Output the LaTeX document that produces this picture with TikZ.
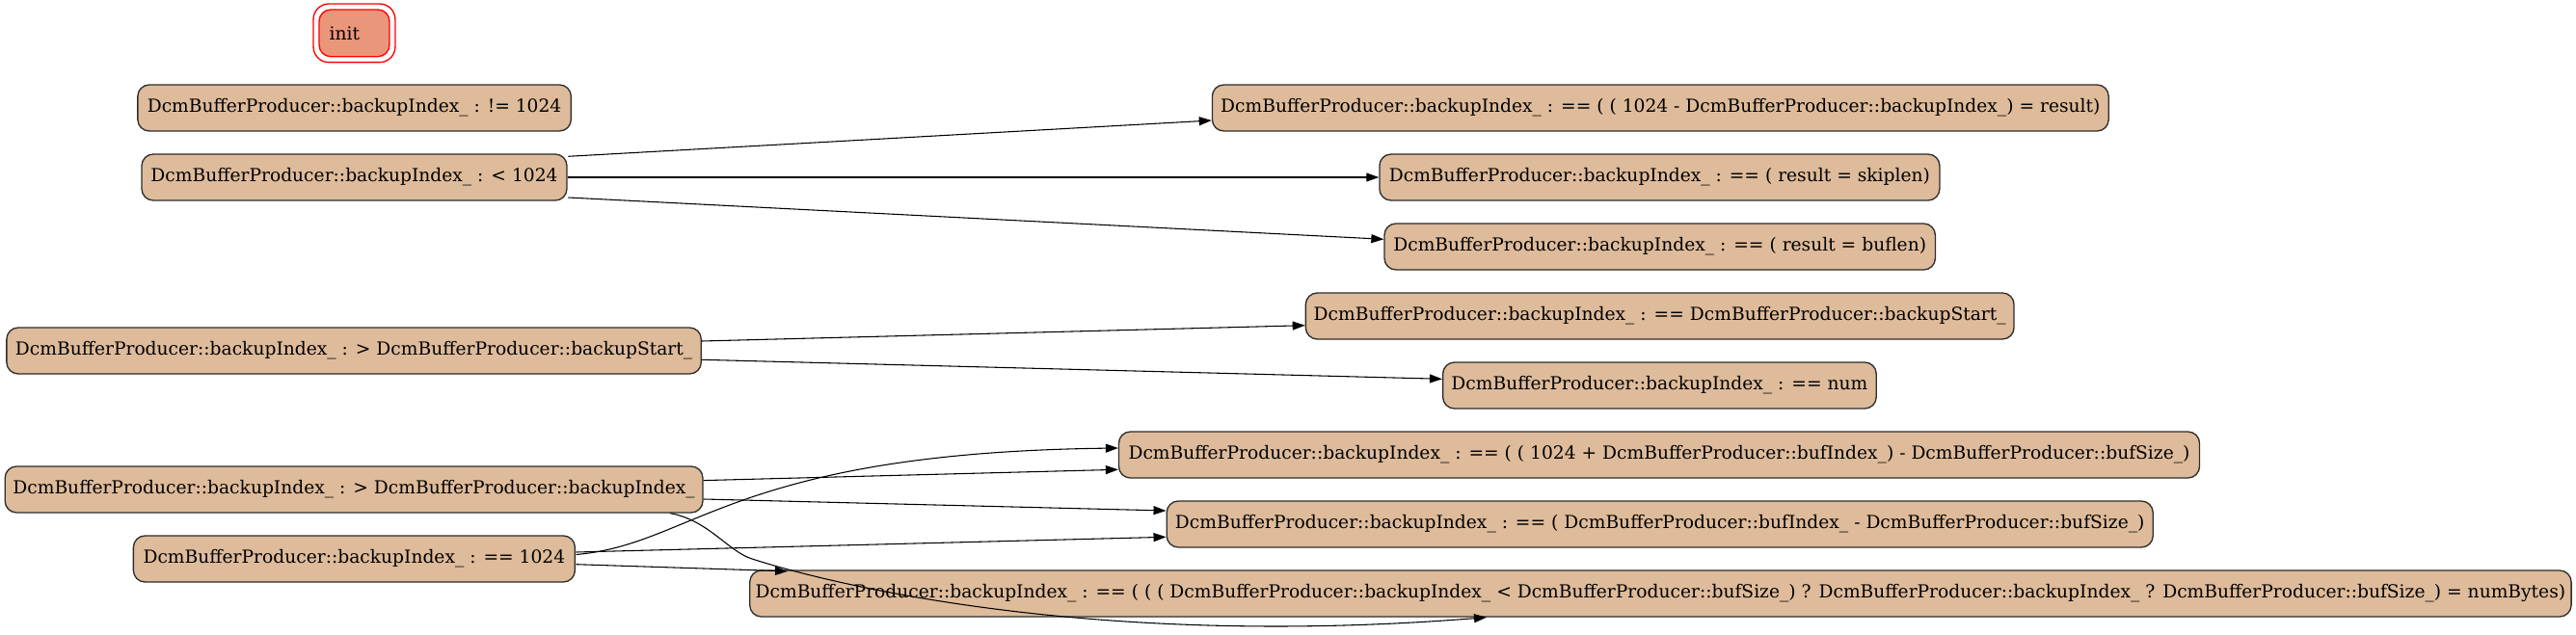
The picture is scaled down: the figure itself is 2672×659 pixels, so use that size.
\documentclass[tikz,border=0pt]{standalone}
\usepackage{fontspec}
\setmainfont{DejaVu Serif}
\usetikzlibrary{arrows.meta,calc}
\definecolor{nodefill}{RGB}{222,187,154}
\definecolor{initfill}{RGB}{234,150,122}
\definecolor{bordergray}{RGB}{45,45,45}
\begin{document}
\begin{tikzpicture}[x=0.75pt,y=-0.75pt,
  state/.style={draw=bordergray, line width=1pt, fill=nodefill, rounded corners=9pt,
    minimum height=36pt, inner xsep=2pt, inner ysep=0pt,
    font=\fontsize{14pt}{17pt}\selectfont},
  nw/.style={minimum width={#1*0.75pt}},
  initnode/.style={draw=red, line width=1pt, fill=initfill, rounded corners=9pt,
    minimum height={48.7*0.75pt}, inner xsep=8pt, inner ysep=0pt,
    text width=38.7pt, align=left, font=\fontsize{14pt}{17pt}\selectfont},
  edge/.style={draw=black, line width=0.8pt, -{Triangle[length=9.75pt,width=6.75pt]}}]
\useasboundingbox (0,0) rectangle (2672,659);

% init
\node[initnode] (init) at (367.5,34.35) {init};
\draw[red, line width=1pt, rounded corners=12pt]
  ($(init.north west)+(-5.3,-5.3)$) rectangle ($(init.south east)+(5.3,5.3)$);

% left column
\node[state, nw=449.5] (ne) at (367.6,112) {DcmBufferProducer::backupIndex\_ : != 1024};
\node[state, nw=441]   (lt) at (367.5,184) {DcmBufferProducer::backupIndex\_ : < 1024};
\node[state, nw=720.4] (gs) at (367.1,364) {DcmBufferProducer::backupIndex\_ : > DcmBufferProducer::backupStart\_};
\node[state, nw=723.8] (gi) at (367.1,508) {DcmBufferProducer::backupIndex\_ : > DcmBufferProducer::backupIndex\_};
\node[state, nw=458]   (eq) at (367.4,580) {DcmBufferProducer::backupIndex\_ : == 1024};

% right column
\node[state, nw=929.8] (r1) at (1722.3,112) {DcmBufferProducer::backupIndex\_ : == ( ( 1024 - DcmBufferProducer::backupIndex\_) = result)};
\node[state, nw=581]   (r2) at (1721.4,184) {DcmBufferProducer::backupIndex\_ : == ( result = skiplen)};
\node[state, nw=571.4] (r3) at (1721.7,256) {DcmBufferProducer::backupIndex\_ : == ( result = buflen)};
\node[state, nw=734.7] (r4) at (1721.7,328) {DcmBufferProducer::backupIndex\_ : == DcmBufferProducer::backupStart\_};
\node[state, nw=449.6] (r5) at (1721.4,400) {DcmBufferProducer::backupIndex\_ : == num};
\node[state, nw=1121]  (b1) at (1721,472) {DcmBufferProducer::backupIndex\_ : == ( ( 1024 + DcmBufferProducer::bufIndex\_) - DcmBufferProducer::bufSize\_)};
\node[state, nw=1023]  (b2) at (1721.7,544) {DcmBufferProducer::backupIndex\_ : == ( DcmBufferProducer::bufIndex\_ - DcmBufferProducer::bufSize\_)};
\node[state, nw=1889.3] (b3) at (1722.4,616) {DcmBufferProducer::backupIndex\_ : == ( ( ( DcmBufferProducer::backupIndex\_ < DcmBufferProducer::bufSize\_) ? DcmBufferProducer::backupIndex\_ ? DcmBufferProducer::bufSize\_) = numBytes)};

% edges
\draw[edge] ($(lt.east)+(0.8,-21.7)$) -- ($(r1.west)+(0,13)$);
\draw[edge] (lt.east) -- (r2.west);
\draw[edge] ($(lt.east)+(0.8,21)$) -- ($(r3.west)+(0,-7.7)$);
\draw[edge] ($(gs.east)+(0,-10)$) -- ($(r4.west)+(0,9.7)$);
\draw[edge] ($(gs.east)+(0,9.3)$) -- ($(r5.west)+(0,-6.7)$);
\draw[edge] ($(gi.east)+(0,-9.4)$) -- ($(b1.west)+(0,15.3)$);
\draw[edge] ($(gi.east)+(0,10)$) -- ($(b2.west)+(0,-14)$);
\draw[edge] ($(gi.south east)+(-34.4,0)$) .. controls (735,540) and (755,572) .. (780,580)
  .. controls (880,612) and (1150,672) .. ($(b3.south)+(-180.4,0)$);
\draw[edge] ($(eq.east)+(0.6,-4.5)$) .. controls (720,565) and (760,470) .. ($(b1.west)+(0,-7)$);
\draw[edge] ($(eq.east)+(0.6,-7)$) -- ($(b2.west)+(0,13.3)$);
\draw[edge] ($(eq.east)+(0.6,5.7)$) -- ($(b3.north west)+(40,1.5)$);
\end{tikzpicture}
\end{document}
